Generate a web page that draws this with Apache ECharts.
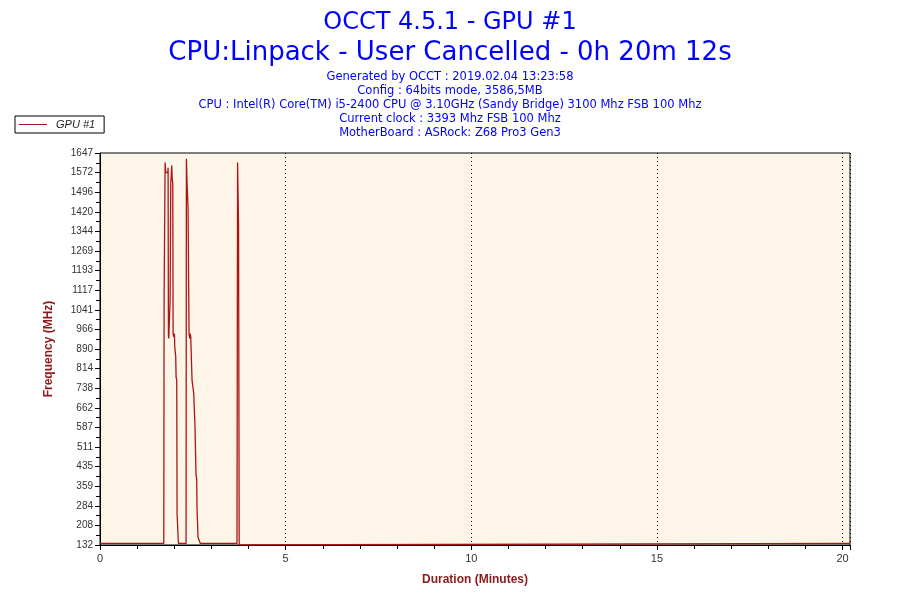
<!DOCTYPE html>
<html>
<head>
<meta charset="utf-8">
<script src="https://cdn.jsdelivr.net/npm/echarts@6/dist/echarts.min.js"></script>
<style>html,body{margin:0;padding:0;background:#fff}#c{width:900px;height:600px}</style>
</head>
<body>
<div id="c"></div>
<script>
// ---- data ----
const titleLine1 = "OCCT 4.5.1 - GPU #1";
const titleLine2 = "CPU:Linpack - User Cancelled - 0h 20m 12s";
const infoLines = [
  "Generated by OCCT : 2019.02.04 13:23:58",
  "Config : 64bits mode, 3586,5MB",
  "CPU : Intel(R) Core(TM) i5-2400 CPU @ 3.10GHz (Sandy Bridge) 3100 Mhz FSB 100 Mhz",
  "Current clock : 3393 Mhz FSB 100 Mhz",
  "MotherBoard : ASRock: Z68 Pro3 Gen3"
];
const seriesName = "GPU #1";
const yTickLabels = ["132","208","284","359","435","511","587","662","738","814","890","966","1041","1117","1193","1269","1344","1420","1496","1572","1647"];
const xTickLabels = ["0","5","10","15","20"];
const durationMinutes = [
  0, 1.718, 1.727, 1.745, 1.754, 1.763, 1.772, 1.826, 1.834, 1.843, 1.852, 1.861, 1.870, 1.879, 1.888, 1.897,
  1.906, 1.924, 1.933, 1.942, 1.960, 1.969, 1.987, 1.996, 2.005, 2.013, 2.031, 2.040, 2.049, 2.067, 2.076, 2.094, 2.103, 2.112,
  2.318, 2.327, 2.336, 2.345, 2.362, 2.371, 2.389, 2.398, 2.407, 2.416, 2.425, 2.443, 2.470, 2.479, 2.515, 2.524, 2.550,
  2.559, 2.577, 2.586, 2.604, 2.613, 2.631, 2.640, 2.657, 2.666, 2.693, 2.702,
  3.690, 3.700, 3.705, 3.727, 3.732, 3.744, 3.749, 3.760, 20.2
];
const frequencyMHz = [
  138, 138, 1097, 1097, 1610, 1610, 1571, 1571, 1590, 940, 930, 935, 930, 930, 1078, 1078,
  1529, 1529, 1599, 1554, 1529, 949, 936, 930, 949, 898, 898, 859, 782, 769, 254, 248, 248, 138,
  138, 1625, 1625, 1529, 1529, 1439, 1439, 949, 940, 930, 949, 940, 936, 769, 775, 718, 718,
  589, 589, 402, 389, 274, 274, 164, 164, 151, 151, 138,
  138, 132, 1610, 1610, 1361, 1361, 132, 138, 138
];
const yMin = 132, yMax = 1647, yStep = 75.75;
const xMin = 0, xMax = 20.2, xStep = 5;

// ---- chart ----
const chart = echarts.init(document.getElementById('c'), null, {renderer: 'canvas'});
const blue = '#0000FF';
const axisRed = '#8B1A1A';
const FONT = '"DejaVu Sans", Verdana, sans-serif';
const titles = [
  {text: titleLine1, left: 'center', top: 6, textStyle: {fontFamily: FONT, fontSize: 24, fontWeight: 'normal', color: blue}},
  {text: titleLine2, left: 'center', top: 35, textStyle: {fontFamily: FONT, fontSize: 26, fontWeight: 'normal', color: blue}}
];
infoLines.forEach((t, i) => titles.push({
  text: t, left: 'center', top: 71.5 + i * 13.9, padding: 0,
  textStyle: {fontFamily: FONT, fontSize: 11.5, fontWeight: 'normal', color: blue}
}));
chart.setOption({
  animation: false,
  backgroundColor: '#ffffff',
  title: titles,
  legend: {
    left: 15, top: 116, orient: 'vertical',
    padding: [3, 9, 3, 4],
    borderColor: '#000', borderWidth: 1, borderRadius: 0,
    itemWidth: 28, itemHeight: 2, itemGap: 4,
    textStyle: {fontFamily: 'Liberation Sans, Arial, sans-serif', fontSize: 11, fontStyle: 'italic', color: '#222', padding: [0, 0, 0, 4]},
    data: [{name: seriesName, icon: 'path://M0,0 L28,0 L28,1 L0,1 Z'}]
  },
  grid: {
    left: 100, right: 50, top: 153, bottom: 55,
    show: true, backgroundColor: '#FDF5E8', borderColor: '#000', borderWidth: 1
  },
  xAxis: {
    type: 'value', min: xMin, max: xMax, interval: xStep,
    name: 'Duration (Minutes)', nameLocation: 'middle', nameGap: 29,
    nameTextStyle: {fontFamily: 'Liberation Sans, Arial, sans-serif', fontSize: 12, fontWeight: 'bold', color: axisRed},
    axisLine: {show: true, onZero: false, lineStyle: {color: '#000', width: 1}},
    axisTick: {show: true, length: 5, lineStyle: {color: '#000'}},
    minorTick: {show: true, splitNumber: 5, length: 4, lineStyle: {color: '#000'}},
    axisLabel: {
      color: '#333', fontFamily: 'Liberation Sans, Arial, sans-serif', fontSize: 11, margin: 8,
      showMaxLabel: false,
      formatter: v => { const i = Math.round((v - xMin) / xStep); return Math.abs(v - (xMin + i * xStep)) < 1e-6 ? (xTickLabels[i] || '') : ''; }
    },
    splitLine: {show: true, lineStyle: {color: '#000', type: [1, 3], width: 1}}
  },
  yAxis: {
    type: 'value', min: yMin, max: yMax, interval: yStep,
    name: 'Frequency (MHz)', nameLocation: 'middle', nameGap: 45,
    nameTextStyle: {fontFamily: 'Liberation Sans, Arial, sans-serif', fontSize: 12, fontWeight: 'bold', color: axisRed},
    axisLine: {show: true, onZero: false, lineStyle: {color: '#000', width: 1}},
    axisTick: {show: true, length: 5, lineStyle: {color: '#000'}},
    minorTick: {show: true, splitNumber: 2, length: 4, lineStyle: {color: '#000'}},
    axisLabel: {
      color: '#333', fontFamily: 'Liberation Sans, Arial, sans-serif', fontSize: 10, margin: 7,
      formatter: v => yTickLabels[Math.round((v - yMin) / yStep)] || ''
    },
    splitLine: {show: false}
  },
  series: [{
    name: seriesName, type: 'line', symbol: 'none',
    lineStyle: {color: '#AA1616', width: 1.3},
    itemStyle: {color: '#AA1616'},
    data: durationMinutes.map((x, i) => [x, frequencyMHz[i]])
  }]
});
</script>
</body>
</html>
